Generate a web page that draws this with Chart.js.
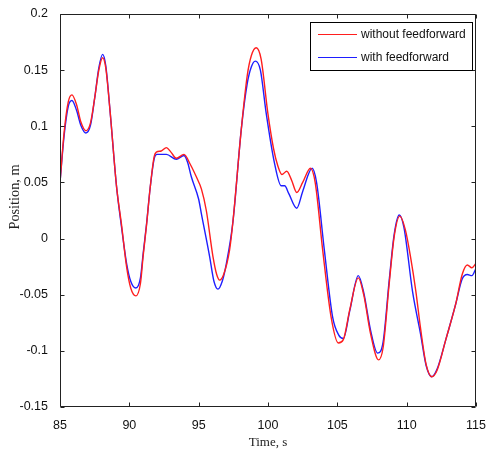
<!DOCTYPE html>
<html>
<head>
<meta charset="utf-8">
<script src="https://cdn.jsdelivr.net/npm/chart.js@4.4.1/dist/chart.umd.min.js"></script>
<style>
  html, body { margin: 0; padding: 0; background: #fff; }
  #wrap { width: 489px; height: 450px; }
</style>
</head>
<body>
<div id="wrap"><canvas id="posChart" width="489" height="450"></canvas></div>
<script>
// Time samples (s) and positions (m)
const timeRed = [
  85.0, 85.3, 85.6, 85.86, 86.2, 86.5, 86.87, 87.2, 87.5, 87.8, 88.07, 88.3, 88.6,
  89.08, 89.44, 89.8, 90.1, 90.47, 90.8, 91.0, 91.24, 91.5, 91.79, 91.95, 92.3, 92.67,
  93.0, 93.39, 93.94, 94.4, 94.83, 95.2, 95.55, 96.03, 96.3, 96.51, 96.8, 97.23, 97.47,
  98.07, 98.5, 98.8, 99.15, 99.5, 99.99, 100.4, 100.7, 101.0, 101.35, 101.7, 102.07,
  102.5, 103.06, 103.4, 103.94, 104.55, 105.07, 105.43, 105.9, 106.51, 106.9, 107.4,
  107.97, 108.3, 108.74, 109.1, 109.5, 109.9, 110.3, 110.66, 111.0, 111.4, 111.81,
  112.2, 112.82, 113.54, 114.0, 114.37, 114.7, 115.0
];
const posRed = [
  0.050, 0.095, 0.122, 0.128, 0.119, 0.104, 0.096, 0.103, 0.125, 0.150, 0.161, 0.152, 0.115,
  0.046, 0.012, -0.025, -0.044, -0.051, -0.040, -0.015, 0.012, 0.045, 0.073, 0.077, 0.078, 0.081,
  0.077, 0.0715, 0.075, 0.066, 0.055, 0.044, 0.025, -0.016, -0.032, -0.037, -0.032, -0.010, 0.015,
  0.097, 0.145, 0.163, 0.170, 0.160, 0.1115, 0.080, 0.065, 0.057, 0.060, 0.052, 0.041,
  0.050, 0.0626, 0.050, -0.010, -0.070, -0.093, -0.090, -0.063, -0.035, -0.050, -0.085,
  -0.108, -0.097, -0.040, 0.002, 0.020, 0.008, -0.018, -0.047, -0.080, -0.112, -0.123,
  -0.117, -0.090, -0.058, -0.032, -0.0235, -0.026, -0.022
];
const timeBlue = [
  85.0, 85.3, 85.6, 85.86, 86.2, 86.5, 86.87, 87.2, 87.5, 87.8, 88.07, 88.3, 88.6,
  89.08, 89.44, 89.8, 90.1, 90.47, 90.8, 91.0, 91.24, 91.5, 91.79, 92.0, 92.67, 93.39,
  93.94, 94.2, 94.47, 95.0, 95.19, 95.79, 96.1, 96.39, 96.7, 97.0, 97.47, 98.07, 98.5,
  98.8, 99.08, 99.45, 99.87, 100.47, 100.95, 101.2, 101.5, 102.07, 102.5, 103.18, 103.5,
  104.06, 104.66, 105.1, 105.43, 105.9, 106.51, 106.9, 107.4, 107.9, 108.3, 108.74,
  109.1, 109.46, 109.8, 110.42, 111.0, 111.4, 111.81, 112.2, 112.82, 113.54, 114.0,
  114.37, 114.7, 115.0
];
const posBlue = [
  0.050, 0.092, 0.118, 0.123, 0.114, 0.101, 0.094, 0.101, 0.125, 0.152, 0.164, 0.154, 0.115,
  0.046, 0.010, -0.022, -0.038, -0.044, -0.035, -0.013, 0.013, 0.045, 0.071, 0.075, 0.075, 0.0706,
  0.074, 0.068, 0.055, 0.035, 0.0225, -0.016, -0.038, -0.045, -0.038, -0.022, 0.015, 0.097, 0.138,
  0.153, 0.158, 0.150, 0.1115, 0.067, 0.047, 0.047, 0.040, 0.027, 0.042, 0.0626, 0.050,
  -0.010, -0.070, -0.086, -0.089, -0.064, -0.033, -0.048, -0.082, -0.102, -0.092, -0.037,
  0.004, 0.021, 0.010, -0.047, -0.085, -0.113, -0.123, -0.116, -0.090, -0.058, -0.036,
  -0.032, -0.033, -0.0265
];
const seriesLabels = ['without feedforward', 'with feedforward'];
const xTicks = [85, 90, 95, 100, 105, 110, 115];
const yTicks = [-0.15, -0.1, -0.05, 0, 0.05, 0.1, 0.15, 0.2];

function toPoints(ts, vs) {
  return ts.map((t, i) => ({ x: t, y: vs[i] }));
}

// box around the axes with matlab-style inward ticks
const frameTicks = {
  id: 'frameTicks',
  afterDraw(chart) {
    const ctx = chart.ctx;
    const a = chart.chartArea;
    const xs = chart.scales.x, ys = chart.scales.y;
    const L = Math.round(a.left) + 0.5, R = Math.round(a.right) - 0.5;
    const T = Math.round(a.top) + 0.5, B = Math.round(a.bottom) - 0.5;
    ctx.save();
    ctx.lineWidth = 1;
    ctx.strokeStyle = '#222';
    ctx.beginPath();
    ctx.moveTo(L, T); ctx.lineTo(R, T); ctx.lineTo(R, B); ctx.lineTo(L, B); ctx.closePath();
    ctx.stroke();
    ctx.beginPath();
    xTicks.forEach(v => {
      const p = Math.round(xs.getPixelForValue(v)) + 0.5;
      ctx.moveTo(p, B); ctx.lineTo(p, B - 4);
      ctx.moveTo(p, T); ctx.lineTo(p, T + 4);
    });
    yTicks.forEach(v => {
      const p = Math.round(ys.getPixelForValue(v)) + 0.5;
      ctx.moveTo(L, p); ctx.lineTo(L + 4, p);
      ctx.moveTo(R, p); ctx.lineTo(R - 4, p);
    });
    ctx.stroke();

    // y axis title, placed as in the original figure
    ctx.translate(15, 197);
    ctx.rotate(-Math.PI / 2);
    ctx.font = '14.3px "Liberation Serif", "Times New Roman", serif';
    ctx.fillStyle = '#222';
    ctx.textAlign = 'center';
    ctx.textBaseline = 'middle';
    ctx.fillText('Position, m', 0, 0);
    ctx.restore();
  }
};

// legend box in the upper right corner
const boxLegend = {
  id: 'boxLegend',
  afterDraw(chart) {
    const ctx = chart.ctx;
    const bx = 310.5, by = 22.5, bw = 162, bh = 48;
    ctx.save();
    ctx.fillStyle = '#fff';
    ctx.fillRect(bx, by, bw, bh);
    ctx.strokeStyle = '#000';
    ctx.lineWidth = 1;
    ctx.strokeRect(bx, by, bw, bh);
    ctx.font = '12px "Liberation Sans", Arial, sans-serif';
    ctx.textBaseline = 'middle';
    chart.data.datasets.forEach((ds, i) => {
      const y = 34.5 + i * 23;
      ctx.strokeStyle = ds.borderColor;
      ctx.beginPath();
      ctx.moveTo(318, y); ctx.lineTo(357, y);
      ctx.stroke();
      ctx.fillStyle = '#111';
      ctx.fillText(ds.label, 361, y);
    });
    ctx.restore();
  }
};

document.addEventListener('DOMContentLoaded', function() {
  const ctx = document.getElementById('posChart').getContext('2d');
  new Chart(ctx, {
    type: 'line',
    data: {
      datasets: [
        {
          label: seriesLabels[0],
          data: toPoints(timeRed, posRed),
          borderColor: 'rgb(255, 30, 30)',
          borderWidth: 1.4,
          pointRadius: 0,
          cubicInterpolationMode: 'monotone',
          fill: false
        },
        {
          label: seriesLabels[1],
          data: toPoints(timeBlue, posBlue),
          borderColor: 'rgb(30, 30, 255)',
          borderWidth: 1.4,
          pointRadius: 0,
          cubicInterpolationMode: 'monotone',
          fill: false
        }
      ]
    },
    options: {
      responsive: false,
      animation: false,
      devicePixelRatio: 1,
      layout: { padding: { top: 14, right: 12, left: 0, bottom: 0 } },
      plugins: { legend: { display: false }, tooltip: { enabled: false } },
      scales: {
        x: {
          type: 'linear',
          min: 85,
          max: 115,
          afterBuildTicks: s => { s.ticks = xTicks.map(v => ({ value: v })); },
          afterFit: s => { s.height = 43; },
          grid: { display: false },
          border: { display: false },
          ticks: {
            color: '#111',
            padding: 3,
            maxRotation: 0,
            font: { family: '"Liberation Sans", Arial, sans-serif', size: 12.5 }
          },
          title: {
            display: true,
            text: 'Time, s',
            color: '#222',
            padding: { top: 0, bottom: 0 },
            font: { family: '"Liberation Serif", "Times New Roman", serif', size: 13 }
          }
        },
        y: {
          type: 'linear',
          min: -0.15,
          max: 0.2,
          afterBuildTicks: s => { s.ticks = yTicks.map(v => ({ value: v })); },
          afterFit: s => { s.width = 60; },
          grid: { display: false },
          border: { display: false },
          ticks: {
            color: '#111',
            padding: 4,
            font: { family: '"Liberation Sans", Arial, sans-serif', size: 12.5 },
            callback: v => String(Number(v.toFixed(2)))
          }
        }
      }
    },
    plugins: [frameTicks, boxLegend]
  });
});
</script>
</body>
</html>
